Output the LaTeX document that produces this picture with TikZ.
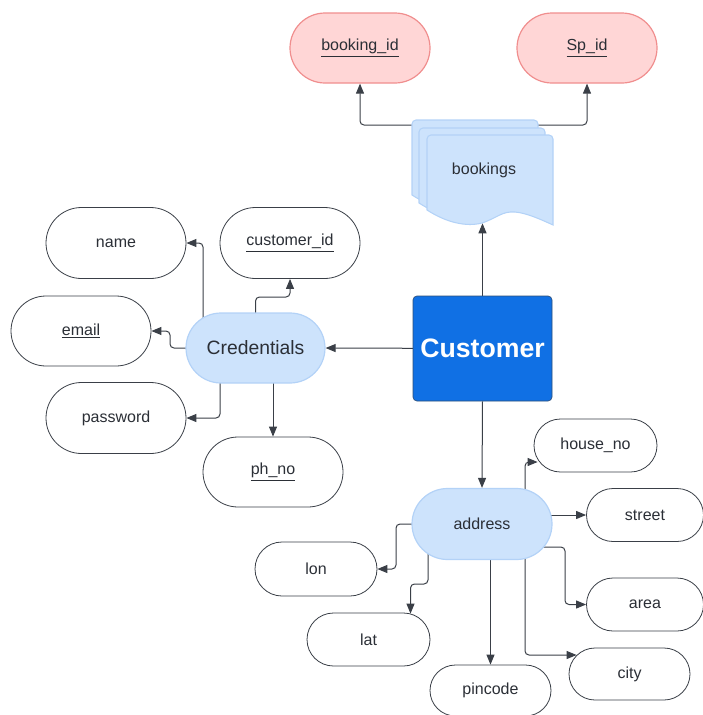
\documentclass[tikz,border=0pt]{standalone}
\usepackage{fontspec}
\setmainfont{Liberation Sans}
\usetikzlibrary{shapes.misc,arrows.meta,calc,backgrounds}

\definecolor{linec}{HTML}{3A3F47}
\definecolor{txtc}{HTML}{2B2F36}
\definecolor{lightblue}{HTML}{CDE3FC}
\definecolor{lightblueb}{HTML}{B3D2F7}
\definecolor{pinkf}{HTML}{FFD6D6}
\definecolor{pinkb}{HTML}{F08E8E}
\definecolor{custblue}{HTML}{1070E4}

\tikzset{
  attr/.style 2 args={rounded rectangle, draw=linec, line width=0.6pt, fill=white,
    minimum width=#1*0.75pt, minimum height=#2*0.75pt, inner sep=0pt,
    font=\fontsize{12}{14}\selectfont, text=txtc},
  keyattr/.style 2 args={attr={#1}{#2}, draw=pinkb, fill=pinkf, line width=0.9pt},
  group/.style 2 args={rounded rectangle, draw=lightblueb, fill=lightblue, line width=0.9pt,
    minimum width=#1*0.75pt, minimum height=#2*0.75pt, inner sep=0pt, text=txtc},
  entity/.style={rectangle, rounded corners=3pt, draw=linec!70!custblue, fill=custblue,
    line width=0.5pt, minimum width=139*0.75pt, minimum height=105*0.75pt,
    text=white, font=\fontsize{20}{24}\selectfont\bfseries},
  conn/.style={draw=linec, line width=0.75pt, rounded corners=3pt,
    -{Triangle[length=7.5pt,width=6pt]}},
  sheet/.style={draw=lightblueb, fill=lightblue, line width=0.8pt}
}

% one page of the stacked document shape, top-left corner at (#1,#2)
\newcommand{\docsheet}[2]{%
  \path[sheet] (#1,#2+75) -- (#1,#2+4) arc[start angle=180,end angle=90,radius=3pt]
    -- (#1+122,#2) arc[start angle=90,end angle=0,radius=3pt] -- (#1+126,#2+90)
    .. controls (#1+115,#2+85) and (#1+100,#2+78) .. (#1+88,#2+77)
    .. controls (#1+75,#2+76) and (#1+70,#2+83) .. (#1+55,#2+88)
    .. controls (#1+40,#2+92) and (#1+20,#2+88) .. (#1,#2+75) -- cycle;}

\begin{document}
\begin{tikzpicture}[x=0.75pt,y=-0.75pt]
\useasboundingbox (0,0) rectangle (703,715);

% stacked bookings pages
\docsheet{412}{120}
\docsheet{419}{128}
\docsheet{427}{135}
\node[font=\fontsize{12}{14}\selectfont, text=txtc, minimum width=126*0.75pt,
  minimum height=92*0.75pt, inner sep=0pt] (bk) at (490,181) {};
\node[font=\fontsize{12}{14}\selectfont, text=txtc] (bklabel) at (484,170) {bookings};

% key attributes of bookings
\node[keyattr={140}{70}] (bid) at (360,48) {\underline{booking\_id}};
\node[keyattr={140}{70}] (sp) at (587,48) {\underline{Sp\_id}};

% main entity
\node[entity] (cust) at (482.5,348.5) {Customer};

% credentials group and its attributes
\node[group={139}{70}, font=\fontsize{14.5}{17}\selectfont] (cred) at (255.5,348) {Credentials};
\node[attr={140}{71}] (name) at (116,243) {name};
\node[attr={140}{71}] (cid) at (290,243) {\underline{customer\_id}};
\node[attr={140}{70}] (email) at (81,331) {\underline{email}};
\node[attr={140}{71}] (pw) at (116,418) {password};
\node[attr={140}{70}] (phno) at (273,472) {\underline{ph\_no}};

% address group and its attributes
\node[group={140}{71}, font=\fontsize{12}{14}\selectfont] (addr) at (482,524) {address};
\node[attr={123}{53}] (hn) at (595.5,445.5) {house\_no};
\node[attr={117}{53}] (st) at (645,515) {street};
\node[attr={117}{53}] (area) at (645,604.5) {area};
\node[attr={121}{52}] (city) at (629.5,674) {city};
\node[attr={121}{51}] (pin) at (490.5,690.5) {pincode};
\node[attr={123}{53}] (lat) at (368.5,639.5) {lat};
\node[attr={122}{54}] (lon) at (316,569) {lon};

\begin{pgfonlayer}{background}
  % bookings
  \draw[conn] (cust.north) -- ($(cust.north |- bk.south)+(0,-4)$);
  \draw[conn] ($(bk.center)+(-40,-56)$) -| (bid.south);
  \draw[conn] ($(bk.center)+(30,-56)$) -| (sp.south);
  % credentials
  \draw[conn] (cust.center) -- (cred.east);
  \draw[conn] ($(cred.center)+(-52.5,0)$) |- (name.east);
  \draw[conn] (cred.center) -- ++(0,-51) -| (cid.south);
  \draw[conn] (cred.center) -- ++(-85.5,0) |- (email.east);
  \draw[conn] ($(cred.center)+(-35.5,0)$) |- (pw.east);
  \draw[conn] (cred.center -| phno.north) -- (phno.north);
  % address
  \draw[conn] (cust.south) -- (addr.north);
  \draw[conn] ($(addr.center)+(43,0)$) |- ($(hn.west)+(4,16.5)$);
  \draw[conn] (addr.center |- st.west) -- (st.west);
  \draw[conn] ($(addr.center)+(0,23)$) -- ++(83,0) |- (area.west);
  \draw[conn] ($(addr.center)+(43,0)$) |- ($(city.west)+(8,-19)$);
  \draw[conn] (addr.center -| pin.north) -- (pin.north);
  \draw[conn] ($(addr.center)+(-54,0)$) -- ++(0,60) -| ($(lat.north)+(42,1)$);
  \draw[conn] (addr.center) -- ++(-86,0) |- (lon.east);
\end{pgfonlayer}
\end{tikzpicture}
\end{document}
